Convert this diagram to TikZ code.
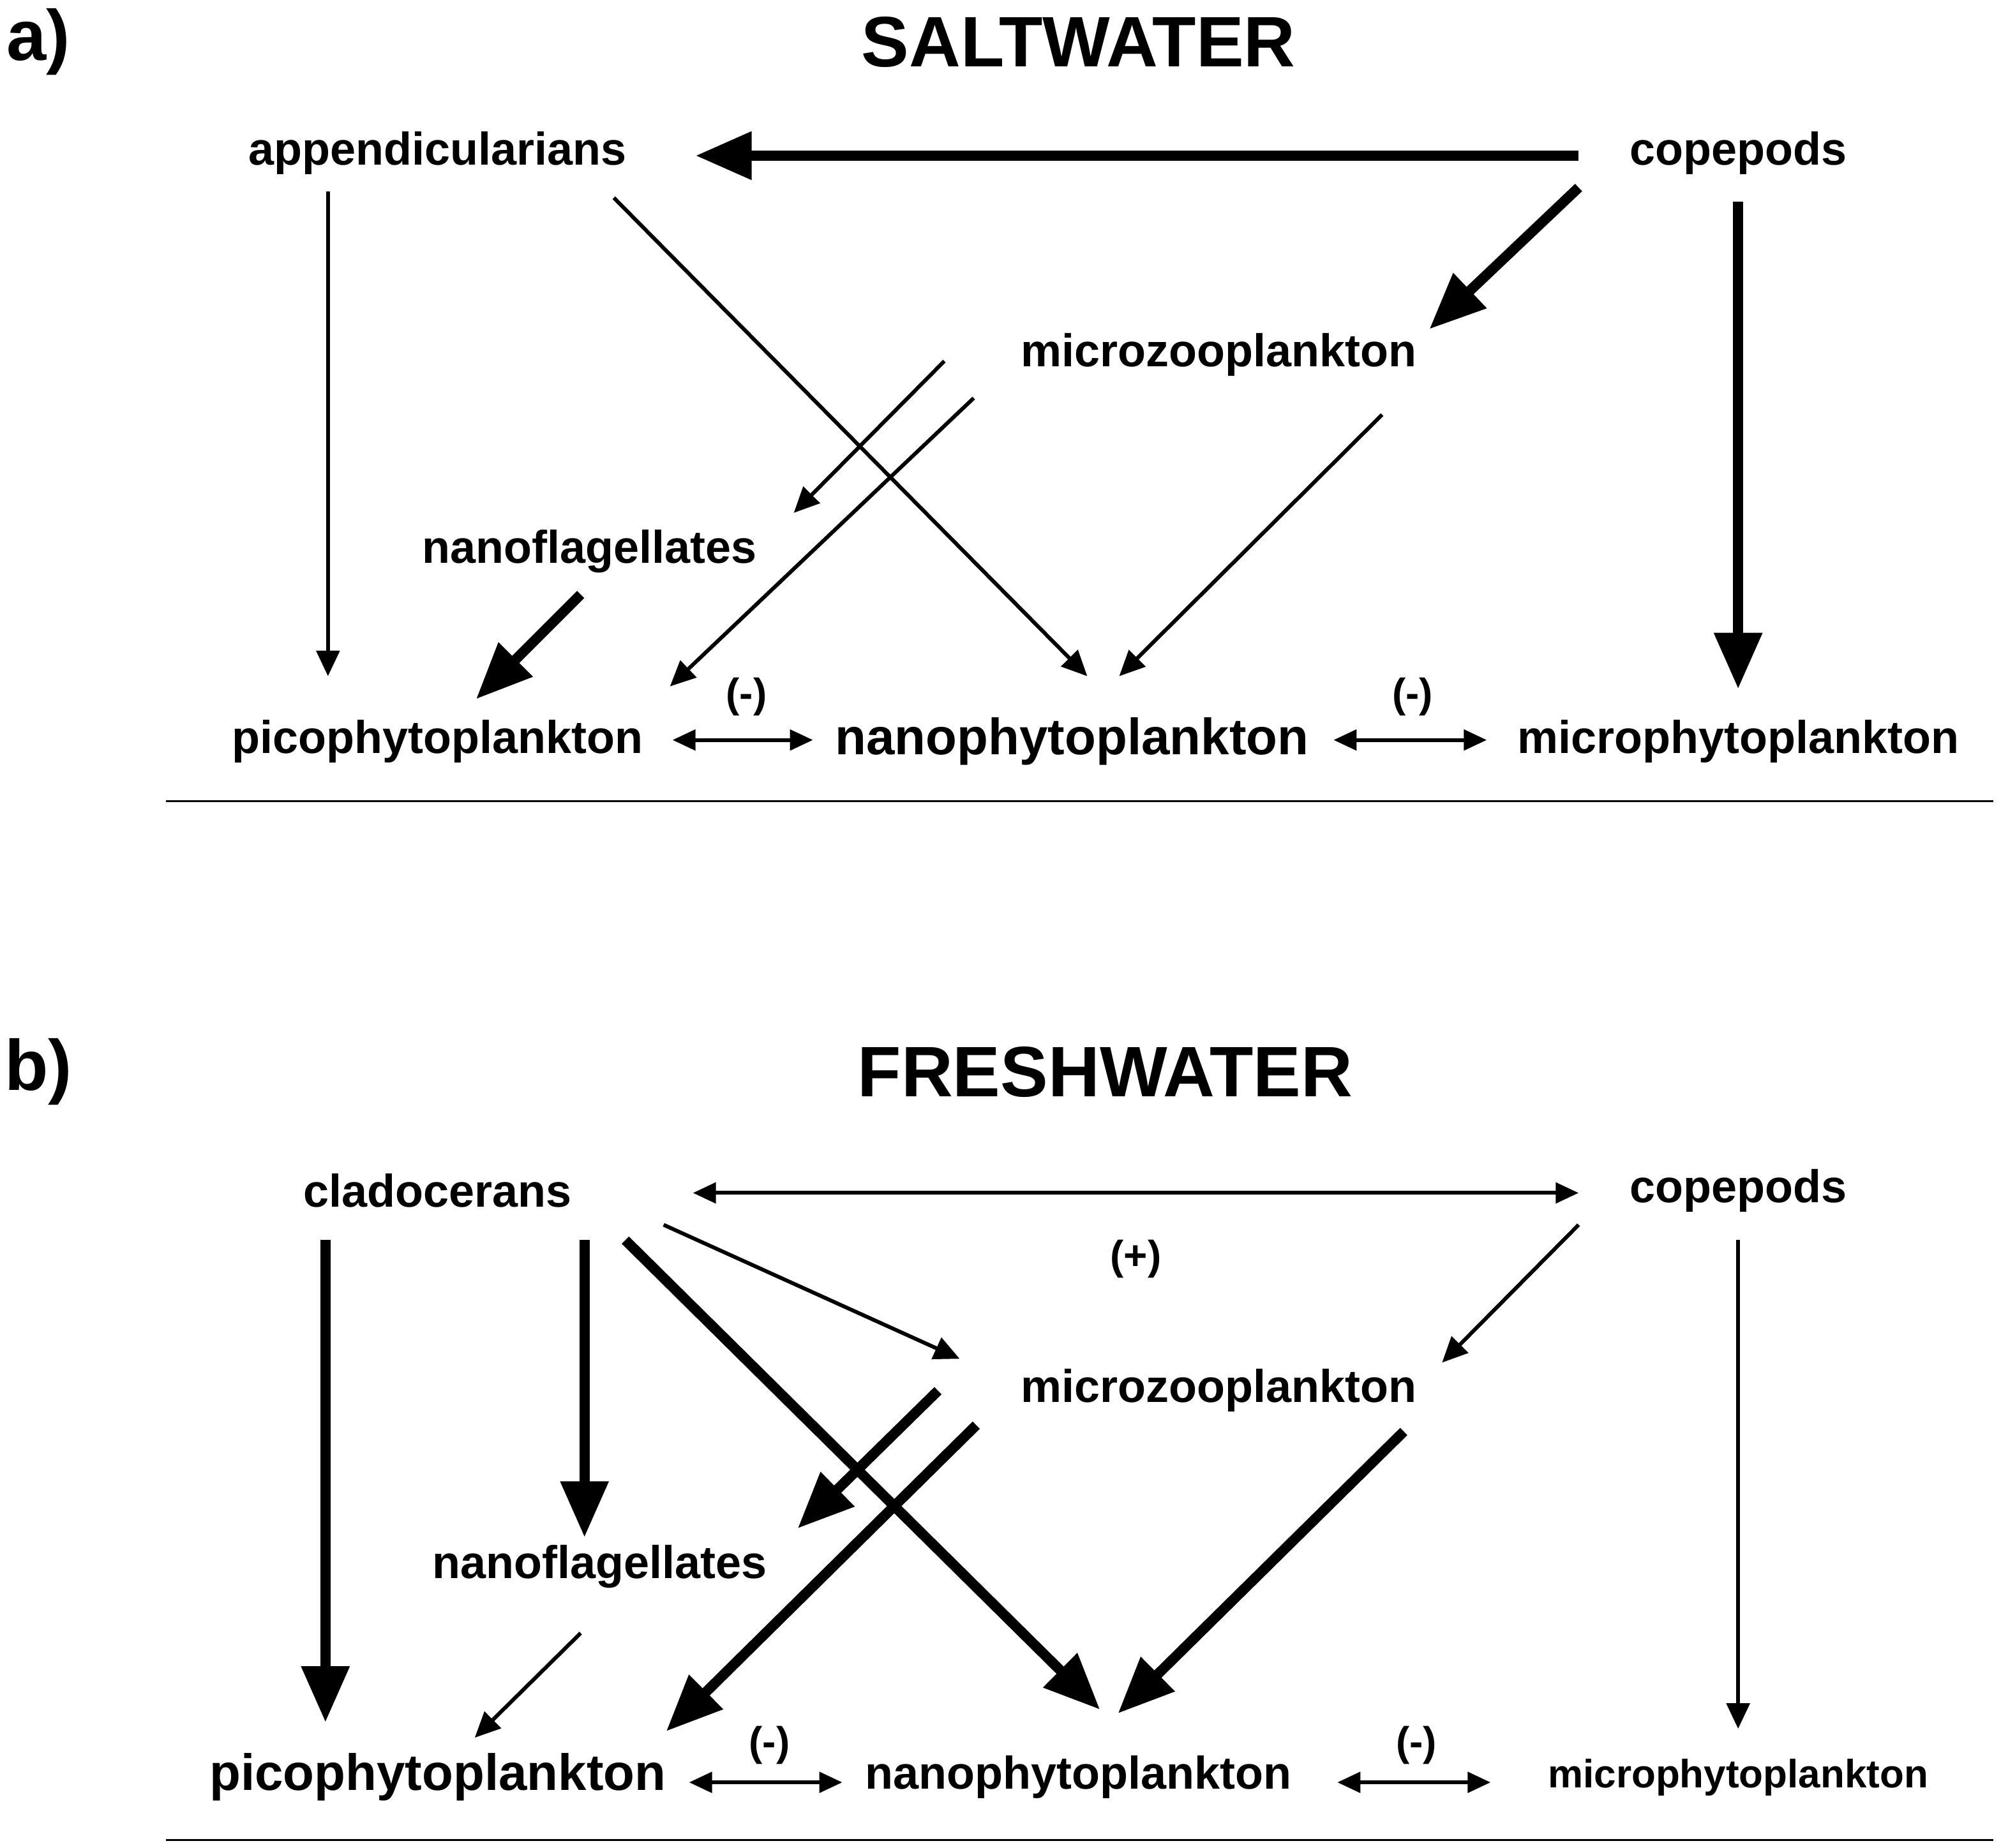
\documentclass[tikz,border=0pt]{standalone}
\usepackage{fontspec}
\setmainfont{Liberation Sans}
\usetikzlibrary{arrows.meta}
\tikzset{
 lab/.style={font=\fontsize{36}{40}\bfseries\selectfont, inner sep=0pt},
 labbig/.style={font=\fontsize{40}{44}\bfseries\selectfont, inner sep=0pt},
 labsm/.style={font=\fontsize{31}{35}\bfseries\selectfont, inner sep=0pt},
 ttl/.style={font=\fontsize{56}{60}\bfseries\selectfont, inner sep=0pt},
 sign/.style={font=\fontsize{32}{36}\bfseries\selectfont, inner sep=0pt},
 thin/.style={line width=3pt, -{Triangle[length=20pt,width=18pt]}},
 thk/.style={line width=8pt, -{Triangle[length=44pt,width=36pt]}},
 dbl/.style={line width=3pt, {Triangle[length=18pt,width=16pt]}-{Triangle[length=18pt,width=16pt]}},
}
\begin{document}
\begin{tikzpicture}[x=1pt,y=-1pt]
\useasboundingbox (0,0) rectangle (1568,1448);
% a)
\node[ttl] (la) at (30,33) {a)};
\node[ttl] (ta) at (845,33) {SALTWATER};
\node[lab] (app) at (343,120) {appendicularians};
\node[lab] (copa) at (1362,120) {copepods};
\node[lab] (mza) at (955,278) {microzooplankton};
\node[lab] (nfa) at (462,432) {nanoflagellates};
\node[lab] (pia) at (343,581) {picophytoplankton};
\node[labbig] (naa) at (840,581) {nanophytoplankton};
\node[lab] (mia) at (1362,581) {microphytoplankton};
\coordinate (a1s) at (1237,122); \coordinate (a1e) at (545,122);
\draw[thk] (a1s) -- (a1e);
\coordinate (a2s) at (1237,147); \coordinate (a2e) at (1120,258);
\draw[thk] (a2s) -- (a2e);
\coordinate (a3s) at (1362,158); \coordinate (a3e) at (1362,540);
\draw[thk] (a3s) -- (a3e);
\coordinate (a4s) at (257,150); \coordinate (a4e) at (257,530);
\draw[thin] (a4s) -- (a4e);
\coordinate (a5s) at (481,155); \coordinate (a5e) at (852,530);
\draw[thin] (a5s) -- (a5e);
\coordinate (a6s) at (740,283); \coordinate (a6e) at (622,402);
\draw[thin] (a6s) -- (a6e);
\coordinate (a7s) at (763,312); \coordinate (a7e) at (525,538);
\draw[thin] (a7s) -- (a7e);
\coordinate (a8s) at (1083,325); \coordinate (a8e) at (877,530);
\draw[thin] (a8s) -- (a8e);
\coordinate (a9s) at (455,466); \coordinate (a9e) at (373,548);
\draw[thk] (a9s) -- (a9e);
\coordinate (d1s) at (527,580); \coordinate (d1e) at (637,580);
\draw[dbl] (d1s) -- (d1e);
\node[sign] (s1) at (585,546) {(-)};
\coordinate (d2s) at (1045,580); \coordinate (d2e) at (1165,580);
\draw[dbl] (d2s) -- (d2e);
\node[sign] (s2) at (1107,546) {(-)};
\coordinate (h1s) at (130,628); \coordinate (h1e) at (1562,628);
\draw[line width=1.5pt] (h1s) -- (h1e);
% b)
\node[ttl] (lb) at (30,840) {b)};
\node[ttl] (tb) at (866,840) {FRESHWATER};
\node[lab] (cla) at (343,933) {cladocerans};
\node[lab] (copb) at (1362,933) {copepods};
\node[lab] (mzb) at (955,1090) {microzooplankton};
\node[lab] (nfb) at (470,1228) {nanoflagellates};
\node[labbig] (pib) at (343,1393) {picophytoplankton};
\node[lab] (nab) at (845,1393) {nanophytoplankton};
\node[labsm] (mib) at (1362,1393) {microphytoplankton};
\coordinate (b1s) at (543,935); \coordinate (b1e) at (1237,935);
\draw[dbl] (b1s) -- (b1e);
\node[sign] (s3) at (890,987) {(+)};
\coordinate (b2s) at (520,960); \coordinate (b2e) at (752,1065);
\draw[thin] (b2s) -- (b2e);
\coordinate (b3s) at (1237,960); \coordinate (b3e) at (1130,1068);
\draw[thin] (b3s) -- (b3e);
\coordinate (b4s) at (1362,972); \coordinate (b4e) at (1362,1355);
\draw[thin] (b4s) -- (b4e);
\coordinate (b5s) at (255,972); \coordinate (b5e) at (255,1350);
\draw[thk] (b5s) -- (b5e);
\coordinate (b6s) at (458,972); \coordinate (b6e) at (458,1205);
\draw[thk] (b6s) -- (b6e);
\coordinate (b7s) at (490,972); \coordinate (b7e) at (862,1340);
\draw[thk] (b7s) -- (b7e);
\coordinate (b8s) at (735,1090); \coordinate (b8e) at (625,1198);
\draw[thk] (b8s) -- (b8e);
\coordinate (b9s) at (765,1117); \coordinate (b9e) at (522,1357);
\draw[thk] (b9s) -- (b9e);
\coordinate (b10s) at (1100,1122); \coordinate (b10e) at (876,1343);
\draw[thk] (b10s) -- (b10e);
\coordinate (b11s) at (455,1280); \coordinate (b11e) at (372,1362);
\draw[thin] (b11s) -- (b11e);
\coordinate (d3s) at (540,1397); \coordinate (d3e) at (660,1397);
\draw[dbl] (d3s) -- (d3e);
\node[sign] (s4) at (603,1368) {(-)};
\coordinate (d4s) at (1048,1397); \coordinate (d4e) at (1168,1397);
\draw[dbl] (d4s) -- (d4e);
\node[sign] (s5) at (1110,1368) {(-)};
\coordinate (h2s) at (130,1442); \coordinate (h2e) at (1562,1442);
\draw[line width=1.5pt] (h2s) -- (h2e);
\end{tikzpicture}
\end{document}
